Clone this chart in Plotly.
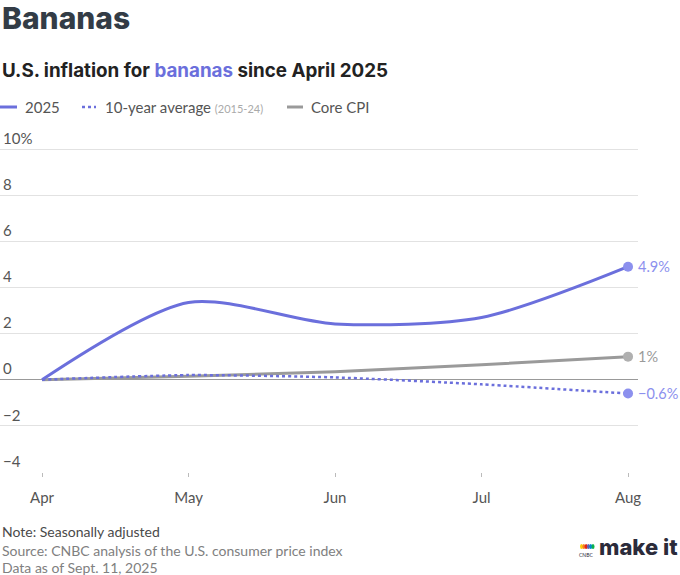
import plotly.graph_objects as go

# data
months = ['Apr', 'May', 'Jun', 'Jul', 'Aug']
bananas_2025 = [0, 3.35, 2.42, 2.7, 4.9]
ten_year_avg = [0, 0.2, 0.1, -0.2, -0.6]
core_cpi = [0, 0.15, 0.35, 0.65, 1.0]
end_labels = ['4.9%', '−0.6%', '1%']

y_ticks = [-4, -2, 0, 2, 4, 6, 8, 10]
y_tick_text = ['−4', '−2', '0', '2', '4', '6', '8', '10%']

BLUE = '#6b6fdc'
BLUE_DOT = '#8c90ee'
GRAY = '#9a9a9a'
TEXT = '#555'
FONT = 'Lato'

W, H = 680, 575
M_L, M_R, M_T, M_B = 0, 42, 124, 103
PLOT_W = W - M_L - M_R
PLOT_H = H - M_T - M_B
Y_TOP = 10 + 25 / 23.07   # leave room above the 10% gridline for its label


def px(x):
    return (x - M_L) / PLOT_W


def py(y):
    return (H - M_B - y) / PLOT_H


x_idx = list(range(len(months)))

fig = go.Figure()

fig.add_trace(go.Scatter(
    x=x_idx, y=core_cpi, mode='lines',
    line=dict(color=GRAY, width=3, shape='spline', smoothing=0.6),
    hoverinfo='skip',
))
fig.add_trace(go.Scatter(
    x=x_idx, y=ten_year_avg, mode='lines',
    line=dict(color=BLUE, width=2.5, dash='dot', shape='spline', smoothing=0.6),
    hoverinfo='skip',
))
fig.add_trace(go.Scatter(
    x=x_idx, y=bananas_2025, mode='lines',
    line=dict(color=BLUE, width=3, shape='spline', smoothing=0.8),
    hoverinfo='skip',
))

# end-point dots and labels
last = len(months) - 1
ends = [
    (bananas_2025[last], BLUE_DOT, end_labels[0], BLUE_DOT),
    (ten_year_avg[last], BLUE_DOT, end_labels[1], BLUE_DOT),
    (core_cpi[last], '#b0b0b0', end_labels[2], GRAY),
]
for val, dot_color, label, txt_color in ends:
    fig.add_trace(go.Scatter(
        x=[last], y=[val], mode='markers',
        marker=dict(color=dot_color, size=10),
        hoverinfo='skip', cliponaxis=False,
    ))
    fig.add_annotation(
        x=last, y=val, xref='x', yref='y', text=label, showarrow=False,
        xanchor='left', yanchor='middle', xshift=8,
        font=dict(family=FONT, size=14.5, color=txt_color),
    )

annotations = [
    dict(x=px(0), y=py(18), text='Bananas',
         font=dict(family='Inter', size=30, color='#333c46', weight=800)),
    dict(x=px(0), y=py(71),
         text='U.S. inflation for <span style="color:%s">bananas</span> since April 2025' % BLUE,
         font=dict(family='Inter', size=18.8, color='#222', weight=700)),
    dict(x=px(23), y=py(107), text='2025',
         font=dict(family=FONT, size=15, color=TEXT)),
    dict(x=px(103), y=py(107),
         text='10-year average <span style="font-size:11px;color:#aaa">(2015-24)</span>',
         font=dict(family=FONT, size=15, color=TEXT)),
    dict(x=px(309), y=py(107), text='Core CPI',
         font=dict(family=FONT, size=15, color=TEXT)),
    dict(x=px(0), y=py(531), text='Note: Seasonally adjusted',
         font=dict(family=FONT, size=14, color='#4a4a4a')),
    dict(x=px(0), y=py(550), text='Source: CNBC analysis of the U.S. consumer price index',
         font=dict(family=FONT, size=14, color='#808080')),
    dict(x=px(0), y=py(567), text='Data as of Sept. 11, 2025',
         font=dict(family=FONT, size=14, color='#808080')),
    dict(x=px(680), y=py(547), text='make it', xanchor='right',
         font=dict(family='Inter', size=22, color='#2b2b3a', weight=800)),
    dict(x=px(586), y=py(555), text='CNBC', xanchor='center',
         font=dict(family=FONT, size=5, color='#2b2b3a')),
]
for a in annotations:
    a.setdefault('xanchor', 'left')
    fig.add_annotation(xref='paper', yref='paper', showarrow=False,
                       yanchor='middle', **a)

# custom legend keys
shapes = [
    dict(type='line', x0=px(0), x1=px(17), y0=py(107), y1=py(107),
         line=dict(color=BLUE, width=3)),
    dict(type='line', x0=px(82), x1=px(96), y0=py(107), y1=py(107),
         line=dict(color=BLUE, width=2.5, dash='dot')),
    dict(type='line', x0=px(287), x1=px(303), y0=py(107), y1=py(107),
         line=dict(color=GRAY, width=3)),
]
# small peacock next to the logo
peacock = ['#fccc0a', '#f58220', '#e2231a', '#6460aa', '#0089d0', '#0db14b']
for i, c in enumerate(peacock):
    cx = 580 + i * 2.3
    shapes.append(dict(type='circle',
                       x0=px(cx), x1=px(cx + 3), y0=py(549), y1=py(544),
                       fillcolor=c, line=dict(width=0)))
for s in shapes:
    s.setdefault('xref', 'paper')
    s.setdefault('yref', 'paper')
    fig.add_shape(**s)

fig.update_layout(
    width=W, height=H,
    margin=dict(l=M_L, r=M_R, t=M_T, b=M_B, pad=0),
    plot_bgcolor='white', paper_bgcolor='white',
    showlegend=False,
    font=dict(family=FONT, size=14, color=TEXT),
    xaxis=dict(
        range=[-0.287, 4.068],
        tickvals=x_idx, ticktext=months,
        showgrid=False, zeroline=False, showline=False,
        ticks='outside', ticklen=4, tickcolor='#bbb', tickwidth=1,
        tickfont=dict(family=FONT, size=15, color=TEXT),
        ticklabelstandoff=8,
    ),
    yaxis=dict(
        range=[-4, Y_TOP],
        tickvals=y_ticks, ticktext=y_tick_text,
        ticklabelposition='inside top',
        showgrid=True, gridcolor='#e2e2e2', gridwidth=1,
        zeroline=True, zerolinecolor='#999', zerolinewidth=1.2,
        showline=False, ticks='',
        tickfont=dict(family=FONT, size=15, color=TEXT),
    ),
)

fig.write_html('out.html', config={'displayModeBar': False},
               post_script="document.body.style.margin='0';")
